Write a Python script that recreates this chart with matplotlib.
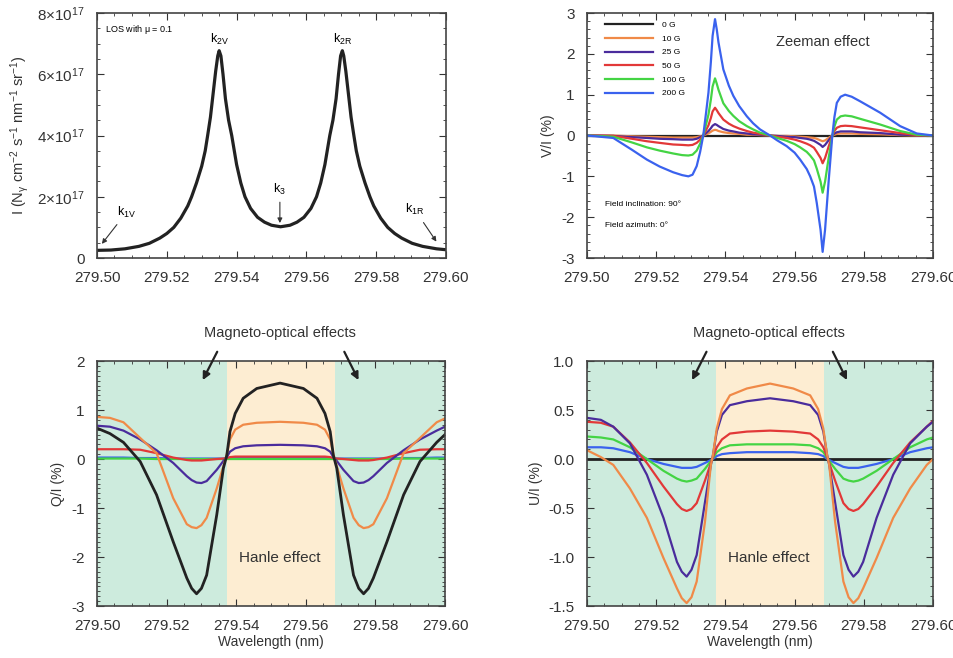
import matplotlib
matplotlib.use("Agg")
from matplotlib import pyplot as plt
from matplotlib.ticker import MultipleLocator
import numpy as np

plt.rcParams['font.family'] = ['Liberation Sans', 'DejaVu Sans']
plt.rcParams['mathtext.default'] = 'regular'
plt.rcParams['axes.unicode_minus'] = False

# --- intensity profile (units of 1e17) ---
wl_i = [279.5000, 279.5040, 279.5080, 279.5120, 279.5150, 279.5180, 279.5200, 279.5220, 279.5240,
        279.5260, 279.5271, 279.5285, 279.5300, 279.5310, 279.5317, 279.5325, 279.5333, 279.5340,
        279.5346, 279.5350, 279.5355, 279.5361, 279.5368, 279.5377, 279.5386, 279.5400, 279.5412,
        279.5424, 279.5440, 279.5460, 279.5480, 279.5500, 279.5526,
        279.5553, 279.5573, 279.5593, 279.5613, 279.5629, 279.5641, 279.5653, 279.5667, 279.5676,
        279.5685, 279.5692, 279.5698, 279.5703, 279.5707, 279.5713, 279.5720, 279.5728, 279.5736,
        279.5743, 279.5753, 279.5768, 279.5782, 279.5793, 279.5813, 279.5833, 279.5853, 279.5873,
        279.5903, 279.5933, 279.5973, 279.6000]
I_prof = [0.25, 0.26, 0.30, 0.38, 0.48, 0.65, 0.80, 1.00, 1.30,
          1.70, 2.00, 2.45, 3.00, 3.50, 4.00, 4.60, 5.40, 6.10,
          6.60, 6.77, 6.60, 6.00, 5.20, 4.50, 4.00, 3.05, 2.45,
          2.00, 1.62, 1.33, 1.17, 1.07, 1.02,
          1.07, 1.17, 1.33, 1.62, 2.00, 2.45, 3.05, 4.00, 4.50,
          5.20, 6.00, 6.60, 6.77, 6.60, 6.10, 5.40, 4.60, 4.00,
          3.50, 3.00, 2.45, 2.00, 1.70, 1.30, 1.00, 0.80, 0.65,
          0.48, 0.38, 0.30, 0.27]

# --- V/I (%) ---
wl_v = [279.5000, 279.5076, 279.5130, 279.5173, 279.5210, 279.5249, 279.5275, 279.5293, 279.5305, 279.5317,
        279.5327, 279.5336, 279.5344, 279.5351, 279.5358, 279.5363, 279.5370, 279.5375, 279.5380, 279.5394,
        279.5410, 279.5423, 279.5440, 279.5462, 279.5480, 279.5500, 279.5529, 279.5550, 279.5577, 279.5600,
        279.5616, 279.5635, 279.5645, 279.5656, 279.5664, 279.5675, 279.5681, 279.5688, 279.5698, 279.5709,
        279.5715, 279.5722, 279.5733, 279.5746, 279.5765, 279.5789, 279.5847, 279.5905, 279.5953, 279.6000]
V_0 = [0.0] * 50
V_10 = [0, 0, -0.02, -0.03, -0.04, -0.05, -0.05, -0.05, -0.05, -0.04,
        -0.02, 0, 0.03, 0.05, 0.09, 0.12, 0.14, 0.13, 0.11, 0.08,
        0.06, 0.05, 0.04, 0.02, 0.02, 0.01, 0, -0.01, -0.01, -0.02,
        -0.03, -0.04, -0.05, -0.06, -0.08, -0.12, -0.14, -0.12, -0.06, 0,
        0.02, 0.04, 0.05, 0.05, 0.05, 0.04, 0.03, 0.01, 0, 0]
V_25 = [0, -0.01, -0.04, -0.06, -0.08, -0.09, -0.10, -0.10, -0.10, -0.08,
        -0.04, 0.0, 0.06, 0.11, 0.18, 0.24, 0.28, 0.26, 0.23, 0.16,
        0.12, 0.10, 0.07, 0.05, 0.03, 0.02, 0.0, -0.01, -0.03, -0.04,
        -0.06, -0.08, -0.10, -0.13, -0.17, -0.23, -0.28, -0.23, -0.12, 0.0,
        0.05, 0.08, 0.10, 0.10, 0.10, 0.08, 0.06, 0.02, 0.01, 0.0]
V_50 = [0, -0.01, -0.08, -0.14, -0.18, -0.22, -0.23, -0.24, -0.23, -0.18,
        -0.10, 0.0, 0.13, 0.25, 0.43, 0.59, 0.68, 0.62, 0.55, 0.39,
        0.29, 0.23, 0.17, 0.11, 0.07, 0.04, 0.0, -0.03, -0.06, -0.10,
        -0.14, -0.20, -0.24, -0.30, -0.40, -0.55, -0.68, -0.55, -0.28, 0.0,
        0.11, 0.19, 0.23, 0.24, 0.23, 0.20, 0.13, 0.06, 0.01, 0.0]
V_100 = [0, -0.03, -0.17, -0.29, -0.37, -0.44, -0.48, -0.49, -0.47, -0.37,
         -0.20, 0.0, 0.27, 0.51, 0.88, 1.20, 1.40, 1.27, 1.12, 0.79,
         0.60, 0.48, 0.35, 0.23, 0.15, 0.07, 0.0, -0.06, -0.13, -0.21,
         -0.29, -0.40, -0.49, -0.61, -0.81, -1.13, -1.40, -1.13, -0.57, 0.0,
         0.22, 0.39, 0.47, 0.49, 0.47, 0.41, 0.27, 0.11, 0.02, 0.0]
V_200 = [0, -0.06, -0.35, -0.59, -0.76, -0.90, -0.97, -1.00, -0.96, -0.75,
         -0.40, 0.0, 0.55, 1.05, 1.80, 2.44, 2.85, 2.60, 2.28, 1.62,
         1.22, 0.97, 0.72, 0.47, 0.30, 0.15, 0.0, -0.12, -0.26, -0.42,
         -0.59, -0.82, -1.00, -1.25, -1.65, -2.31, -2.85, -2.31, -1.16, 0.0,
         0.45, 0.80, 0.95, 1.00, 0.95, 0.84, 0.56, 0.23, 0.05, 0.0]

# --- Q/I (%) ---
wl_q = [279.5000, 279.5037, 279.5076, 279.5124, 279.5171, 279.5219, 279.5258, 279.5272, 279.5286, 279.5300, 279.5315,
        279.5344, 279.5363, 279.5373, 279.5382, 279.5397, 279.5420, 279.5459, 279.5526,
        279.5593, 279.5632, 279.5655, 279.5670, 279.5679, 279.5689, 279.5708,
        279.5737, 279.5752, 279.5766, 279.5780, 279.5794,
        279.5833, 279.5881, 279.5928, 279.5976, 279.6000]
Q_0 = [0.63, 0.52, 0.34, -0.05, -0.73, -1.69, -2.43, -2.64, -2.75, -2.64, -2.37,
       -1.14, -0.19, 0.08, 0.56, 0.93, 1.24, 1.44, 1.55,
       1.44, 1.24, 0.93, 0.56, 0.08, -0.19, -1.14,
       -2.37, -2.64, -2.75, -2.64, -2.43,
       -1.69, -0.73, -0.05, 0.34, 0.50]
Q_10 = [0.86, 0.84, 0.75, 0.43, 0.12, -0.80, -1.33, -1.39, -1.41, -1.35, -1.20,
        -0.60, -0.15, 0.10, 0.40, 0.60, 0.70, 0.74, 0.76,
        0.74, 0.70, 0.60, 0.40, 0.10, -0.15, -0.60,
        -1.20, -1.35, -1.41, -1.39, -1.33,
        -0.80, 0.12, 0.43, 0.75, 0.83]
Q_25 = [0.68, 0.66, 0.58, 0.40, 0.18, -0.08, -0.35, -0.43, -0.48, -0.49, -0.45,
        -0.22, -0.04, 0.04, 0.15, 0.22, 0.26, 0.28, 0.29,
        0.28, 0.26, 0.22, 0.15, 0.04, -0.04, -0.22,
        -0.45, -0.49, -0.48, -0.43, -0.35,
        -0.08, 0.18, 0.40, 0.58, 0.66]
Q_50 = [0.20, 0.20, 0.20, 0.19, 0.12, 0.03, -0.02, -0.03, -0.03, -0.03, -0.02,
        0.0, 0.01, 0.02, 0.04, 0.05, 0.05, 0.05, 0.05,
        0.05, 0.05, 0.05, 0.04, 0.02, 0.01, 0.0,
        -0.02, -0.03, -0.03, -0.03, -0.02,
        0.03, 0.12, 0.19, 0.20, 0.20]
Q_100 = [0.01, 0.01, 0.01, 0.01, 0.0, 0.0, 0.0, 0.0, 0.0, 0.0, 0.0,
         0.0, 0.0, 0.0, 0.0, 0.0, 0.0, 0.0, 0.0,
         0.0, 0.0, 0.0, 0.0, 0.0, 0.0, 0.0,
         0.0, 0.0, 0.0, 0.0, 0.0,
         0.0, 0.01, 0.01, 0.01, 0.01]
Q_200 = [0.03, 0.03, 0.03, 0.02, 0.02, 0.01, 0.01, 0.01, 0.01, 0.01, 0.01,
         0.01, 0.01, 0.02, 0.02, 0.02, 0.02, 0.02, 0.02,
         0.02, 0.02, 0.02, 0.02, 0.02, 0.01, 0.01,
         0.01, 0.01, 0.01, 0.01, 0.01,
         0.01, 0.02, 0.02, 0.03, 0.03]

# --- U/I (%) ---
wl_u = [279.5000, 279.5040, 279.5076, 279.5124, 279.5173, 279.5221, 279.5260, 279.5274, 279.5288, 279.5302, 279.5317,
        279.5341, 279.5358, 279.5364, 279.5375, 279.5390, 279.5413, 279.5462, 279.5529,
        279.5596, 279.5645, 279.5668, 279.5683, 279.5694, 279.5700, 279.5717,
        279.5741, 279.5756, 279.5770, 279.5784, 279.5798,
        279.5837, 279.5885, 279.5934, 279.5982, 279.6000]
U_0 = [0.0] * 36
U_10 = [0.09, 0.02, -0.06, -0.30, -0.60, -1.01, -1.32, -1.42, -1.47, -1.41, -1.25,
        -0.64, -0.06, 0.04, 0.31, 0.51, 0.65, 0.72, 0.77,
        0.72, 0.65, 0.51, 0.31, 0.04, -0.06, -0.64,
        -1.25, -1.41, -1.47, -1.42, -1.32,
        -1.01, -0.60, -0.30, -0.06, 0.00]
U_25 = [0.42, 0.40, 0.33, 0.16, -0.16, -0.60, -1.05, -1.15, -1.20, -1.13, -0.98,
        -0.44, -0.06, 0.04, 0.28, 0.45, 0.55, 0.59, 0.62,
        0.59, 0.55, 0.45, 0.28, 0.04, -0.06, -0.44,
        -0.98, -1.13, -1.20, -1.15, -1.05,
        -0.60, -0.16, 0.16, 0.33, 0.38]
U_50 = [0.38, 0.37, 0.33, 0.17, -0.04, -0.28, -0.46, -0.51, -0.53, -0.51, -0.45,
        -0.22, -0.04, 0.02, 0.12, 0.20, 0.26, 0.28, 0.29,
        0.28, 0.26, 0.20, 0.12, 0.02, -0.04, -0.22,
        -0.45, -0.51, -0.53, -0.51, -0.46,
        -0.28, -0.04, 0.17, 0.33, 0.39]
U_100 = [0.23, 0.22, 0.20, 0.12, 0.0, -0.12, -0.20, -0.22, -0.23, -0.22, -0.20,
         -0.10, -0.02, 0.01, 0.07, 0.11, 0.14, 0.15, 0.15,
         0.15, 0.14, 0.11, 0.07, 0.01, -0.02, -0.10,
         -0.20, -0.22, -0.23, -0.22, -0.20,
         -0.12, 0.0, 0.12, 0.20, 0.22]
U_200 = [0.12, 0.12, 0.11, 0.07, 0.0, -0.05, -0.08, -0.09, -0.09, -0.09, -0.08,
         -0.04, -0.01, 0.0, 0.03, 0.05, 0.06, 0.07, 0.07,
         0.07, 0.06, 0.05, 0.03, 0.0, -0.01, -0.04,
         -0.08, -0.09, -0.09, -0.09, -0.08,
         -0.05, 0.0, 0.07, 0.11, 0.12]

labels = ["0 G", "10 G", "25 G", "50 G", "100 G", "200 G"]
colors = ["#222222", "#f08a48", "#4a2c9c", "#e23838", "#44d444", "#3a62ee"]
hanle_lo, hanle_hi = 279.5373, 279.5685

fig = plt.figure(figsize=(9.54, 6.58), dpi=100)
ax_i = fig.add_axes([0.1017, 0.6079, 0.3658, 0.3723])
ax_v = fig.add_axes([0.6153, 0.6079, 0.3627, 0.3723])
ax_q = fig.add_axes([0.1017, 0.0790, 0.3648, 0.3723])
ax_u = fig.add_axes([0.6153, 0.0790, 0.3627, 0.3723])


def style(ax):
    ax.set_xlim(279.50, 279.60)
    ax.xaxis.set_major_locator(MultipleLocator(0.02))
    ax.xaxis.set_minor_locator(MultipleLocator(0.005))
    ax.xaxis.set_major_formatter(plt.FormatStrFormatter('%.2f'))
    ax.tick_params(which='both', direction='in', top=True, right=True, labelsize=11, colors='#333333')
    ax.tick_params(which='major', length=5, pad=9)
    ax.tick_params(which='minor', length=2.5)
    for s in ax.spines.values():
        s.set_color('#444444')
        s.set_linewidth(1.2)


# intensity
style(ax_i)
ax_i.plot(wl_i, np.array(I_prof) * 1e17, color='#222222', lw=2.3)
ax_i.set_ylim(0, 8e17)
ax_i.set_yticks([0, 2e17, 4e17, 6e17, 8e17])
ax_i.set_yticklabels(['0', r'$2{\times}10^{17}$', r'$4{\times}10^{17}$', r'$6{\times}10^{17}$', r'$8{\times}10^{17}$'])
ax_i.yaxis.set_minor_locator(MultipleLocator(0.5e17))
ax_i.set_ylabel(r'I (N$_\gamma$ cm$^{-2}$ s$^{-1}$ nm$^{-1}$ sr$^{-1}$)', fontsize=10.5, color='#333333')
ax_i.text(279.5023, 7.45e17, r'LOS with $\mu$ = 0.1', fontsize=6.5, va='center')
ax_i.text(279.5350, 7.15e17, r'k$_{2V}$', fontsize=9, ha='center', va='center')
ax_i.text(279.5705, 7.15e17, r'k$_{2R}$', fontsize=9, ha='center', va='center')
ap = dict(arrowstyle='-|>', lw=0.8, color='#333333', mutation_scale=7)
ax_i.annotate(r'k$_3$', xy=(279.5524, 1.05e17), xytext=(279.5524, 2.25e17), fontsize=9,
              ha='center', va='center', arrowprops=ap)
ax_i.annotate(r'k$_{1V}$', xy=(279.5009, 0.39e17), xytext=(279.5085, 1.5e17), fontsize=9,
              ha='center', va='center', arrowprops=ap)
ax_i.annotate(r'k$_{1R}$', xy=(279.5977, 0.46e17), xytext=(279.5911, 1.57e17), fontsize=9,
              ha='center', va='center', arrowprops=ap)

# V/I
style(ax_v)
for y, c, lab in zip([V_0, V_10, V_25, V_50, V_100, V_200], colors, labels):
    ax_v.plot(wl_v, y, color=c, lw=1.6, label=lab)
ax_v.set_ylim(-3, 3)
ax_v.yaxis.set_major_locator(MultipleLocator(1))
ax_v.yaxis.set_minor_locator(MultipleLocator(0.2))
ax_v.set_ylabel('V/I (%)', fontsize=10, color='#333333')
ax_v.legend(loc='upper left', bbox_to_anchor=(0.035, 0.99), frameon=False, fontsize=6,
            handlelength=5.8, handletextpad=1.1, labelspacing=0.7, borderpad=0.2)
ax_v.text(0.682, 0.881, 'Zeeman effect', transform=ax_v.transAxes, fontsize=10.5,
          ha='center', va='center', color='#333333')
ax_v.text(0.052, 0.217, 'Field inclination: 90°', transform=ax_v.transAxes, fontsize=6, va='center')
ax_v.text(0.052, 0.131, 'Field azimuth: 0°', transform=ax_v.transAxes, fontsize=6, va='center')

# Q/I and U/I
for ax, wl, series, lim, ylab in [(ax_q, wl_q, [Q_0, Q_10, Q_25, Q_50, Q_100, Q_200], (-3, 2), 'Q/I (%)'),
                                  (ax_u, wl_u, [U_0, U_10, U_25, U_50, U_100, U_200], (-1.5, 1.0), 'U/I (%)')]:
    style(ax)
    ax.axvspan(279.50, hanle_lo, color='#cdebdd', lw=0, zorder=0)
    ax.axvspan(hanle_lo, hanle_hi, color='#fdedd2', lw=0, zorder=0)
    ax.axvspan(hanle_hi, 279.60, color='#cdebdd', lw=0, zorder=0)
    order = [5, 4, 3, 2, 1, 0] if ax is ax_q else [0, 5, 4, 3, 2, 1]
    for k in order:
        ax.plot(wl, series[k], color=colors[k], lw=1.6 if k else 2.0)
    ax.set_ylim(*lim)
    ax.set_ylabel(ylab, fontsize=10, color='#333333')
    ax.set_xlabel('Wavelength (nm)', fontsize=10, color='#333333', labelpad=2)
    ax.text(0.525, 0.196, 'Hanle effect', transform=ax.transAxes, fontsize=11,
            ha='center', va='center', color='#333333')
    ax.text(0.525, 1.114, 'Magneto-optical effects', transform=ax.transAxes, fontsize=10.5,
            ha='center', va='center', color='#333333')
    bp = dict(arrowstyle='-|>', lw=1.6, color='#222222', mutation_scale=11)
    ax.annotate('', xy=(0.300, 0.912), xytext=(0.349, 1.048), xycoords='axes fraction', arrowprops=bp, annotation_clip=False)
    ax.annotate('', xy=(0.755, 0.912), xytext=(0.707, 1.048), xycoords='axes fraction', arrowprops=bp, annotation_clip=False)

ax_q.yaxis.set_major_locator(MultipleLocator(1))
ax_q.yaxis.set_minor_locator(MultipleLocator(0.1))
ax_u.yaxis.set_major_locator(MultipleLocator(0.5))
ax_u.yaxis.set_minor_locator(MultipleLocator(0.1))
ax_u.yaxis.set_major_formatter(plt.FormatStrFormatter('%.1f'))

fig.savefig('out.png', dpi=100)
